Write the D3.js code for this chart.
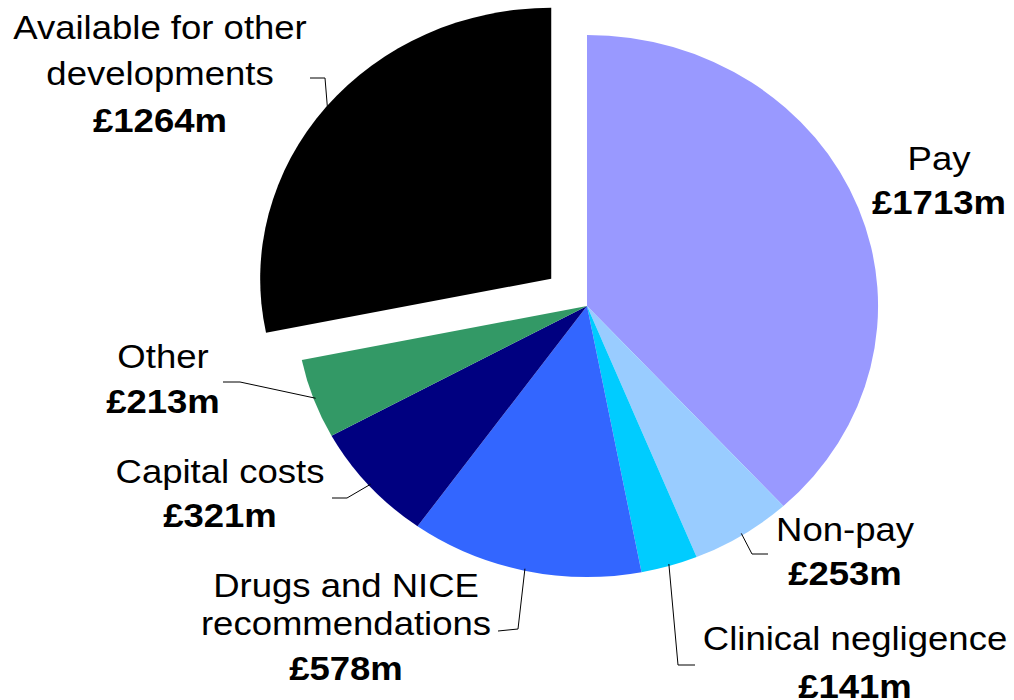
<!DOCTYPE html>
<html>
<head>
<meta charset="utf-8">
<script src="https://cdn.jsdelivr.net/npm/d3@7"></script>
<style>
  body { margin: 0; background: #fff; }
  text { font-family: "Liberation Sans", Arial, sans-serif; fill: #000; }
  .lbl-main { font-size: 34px; }
  .lbl-val { font-size: 34px; font-weight: bold; }
  .leader { fill: none; stroke: #000; stroke-width: 1; }
</style>
</head>
<body>
<svg id="chart" width="1014" height="700"></svg>
<script>
// --- data ---
const categories = ["Pay", "Non-pay", "Clinical negligence", "Drugs and NICE recommendations",
                    "Capital costs", "Other", "Available for other developments"];
const values = [1713, 253, 141, 578, 321, 213, 1264];
const valueLabels = ["£1713m", "£253m", "£141m", "£578m", "£321m", "£213m", "£1264m"];
const colors = ["#9999FF", "#99CCFF", "#00CCFF", "#3366FF", "#000080", "#339966", "#000000"];
const exploded = [false, false, false, false, false, false, true];

// --- layout (label text lines, centre x, baselines, leader elbows) ---
const labelLines = [
  ["Pay"],
  ["Non-pay"],
  ["Clinical negligence"],
  ["Drugs and NICE", "recommendations"],
  ["Capital costs"],
  ["Other"],
  ["Available for other", "developments"]
];
const labelX = [939, 845, 855, 346, 220, 163, 160];
const labelBaselines = [
  [170, 214], [541, 585], [650, 698], [597, 635, 680],
  [483, 527], [368, 413], [39, 85, 132]
];
const leaders = [
  null,
  [[768, 554], [752, 554]],
  [[695, 665], [678, 665]],
  [[498, 631], [518, 629]],
  [[332, 498], [347, 498]],
  [[223, 382], [240, 382]],
  [[310, 78], [325, 78]]
];

const cx = 587, cy = 306, R = 271, sx = 1.074, explode = 43;

const svg = d3.select("#chart");

const pie = d3.pie().value(d => d).sort(null);
const arcs = pie(values);
const arc = d3.arc().innerRadius(0).outerRadius(R);

function offsetOf(d, i) {
  if (!exploded[i]) return [0, 0];
  const a = (d.startAngle + d.endAngle) / 2;
  return [Math.sin(a) * explode, -Math.cos(a) * explode];
}

// pie drawn in unscaled coords, then stretched horizontally
const pg = svg.append("g").attr("transform", `translate(${cx},${cy}) scale(${sx},1)`);
pg.selectAll("path")
  .data(arcs)
  .join("path")
  .attr("d", arc)
  .attr("fill", (d, i) => colors[i])
  .attr("transform", (d, i) => {
    const o = offsetOf(d, i);
    return `translate(${o[0]},${o[1]})`;
  });

// pie edge point at mid angle, in pixel coords
function edgePoint(d, i) {
  const a = (d.startAngle + d.endAngle) / 2;
  const o = offsetOf(d, i);
  const r = R - 2;
  return [cx + (Math.sin(a) * r + o[0]) * sx, cy + (-Math.cos(a) * r + o[1])];
}

// leader lines
const line = d3.line();
arcs.forEach((d, i) => {
  if (!leaders[i]) return;
  const pts = leaders[i].concat([edgePoint(d, i)]);
  svg.append("path").attr("class", "leader").attr("d", line(pts));
});

// labels: category lines then bold value
arcs.forEach((d, i) => {
  const x = labelX[i];
  const ys = labelBaselines[i];
  const texts = labelLines[i].concat([valueLabels[i]]);
  texts.forEach((t, k) => {
    svg.append("text")
      .attr("class", k === texts.length - 1 ? "lbl-val" : "lbl-main")
      .attr("text-anchor", "middle")
      .attr("transform", `translate(${x},${ys[k]}) scale(${sx},1)`)
      .text(t);
  });
});
</script>
</body>
</html>
